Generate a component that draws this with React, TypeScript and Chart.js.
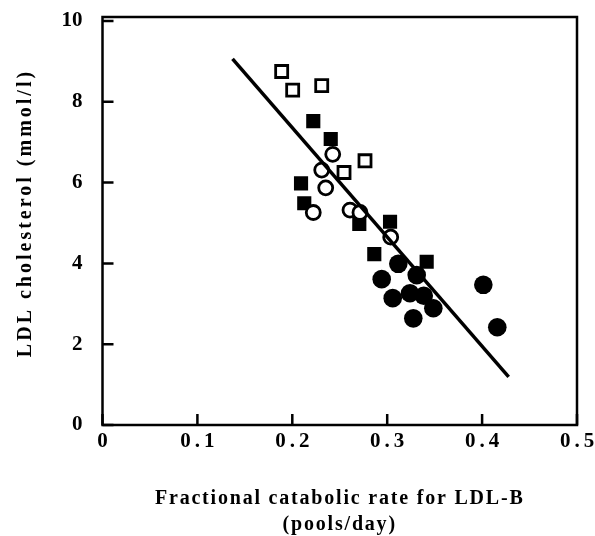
import React, { useEffect, useRef } from "react";
import { Chart, registerables } from "chart.js";

Chart.register(...registerables);

const openSquaresX = [0.1888, 0.2004, 0.231, 0.2766, 0.2545];
const openSquaresY = [8.75, 8.29, 8.4, 6.54, 6.25];

const filledSquaresX = [0.2221, 0.2405, 0.2092, 0.2126, 0.2706, 0.303, 0.2864, 0.3416];
const filledSquaresY = [7.52, 7.08, 5.98, 5.49, 4.98, 5.03, 4.23, 4.04];

const openCirclesX = [0.2426, 0.231, 0.2352, 0.2221, 0.2608, 0.2713, 0.3037];
const openCirclesY = [6.7, 6.31, 5.87, 5.26, 5.32, 5.26, 4.65];

const filledCirclesX = [0.3117, 0.3311, 0.2942, 0.3058, 0.324, 0.3385, 0.3486, 0.3275, 0.4013, 0.416];
const filledCirclesY = [3.99, 3.71, 3.61, 3.14, 3.26, 3.2, 2.89, 2.64, 3.47, 2.42];

const lineX = [0.137, 0.428];
const lineY = [9.06, 1.19];

const xTicks = [0, 0.1, 0.2, 0.3, 0.4, 0.5];
const xTickLabels = ["0", "0.1", "0.2", "0.3", "0.4", "0.5"];
const yTicks = [0, 2, 4, 6, 8, 10];
const yTickLabels = ["0", "2", "4", "6", "8", "10"];

const xTitle1 = "Fractional catabolic rate for LDL-B";
const xTitle2 = "(pools/day)";
const yTitle = "LDL cholesterol (mmol/l)";

const toPts = (xs: number[], ys: number[]) => xs.map((x, i) => ({ x, y: ys[i] }));

const FONT = '"Liberation Serif", "Times New Roman", serif';

const framePlugin = {
  id: "frameAndText",
  beforeDatasetsDraw(chart: any) {
    const { ctx, chartArea } = chart;
    const xs = chart.scales.x;
    const ys = chart.scales.y;
    ctx.save();
    ctx.strokeStyle = "#000";
    ctx.lineWidth = 2.5;
    ctx.beginPath();
    ctx.rect(chartArea.left, chartArea.top - 4, chartArea.right - chartArea.left, chartArea.bottom - chartArea.top + 4);
    ctx.stroke();
    ctx.beginPath();
    xTicks.forEach((v) => {
      const px = xs.getPixelForValue(v);
      ctx.moveTo(px, chartArea.bottom);
      ctx.lineTo(px, chartArea.bottom - 11);
    });
    yTicks.forEach((v) => {
      const py = ys.getPixelForValue(v);
      ctx.moveTo(chartArea.left, py);
      ctx.lineTo(chartArea.left + 11, py);
    });
    ctx.stroke();
    ctx.restore();
  },
  afterDraw(chart: any) {
    const { ctx, chartArea } = chart;
    const xs = chart.scales.x;
    const ys = chart.scales.y;
    ctx.save();
    ctx.fillStyle = "#000";
    ctx.textBaseline = "middle";
    ctx.font = `bold 21px ${FONT}`;
    (ctx as any).letterSpacing = "4px";
    ctx.textAlign = "center";
    xTicks.forEach((v, i) => {
      ctx.fillText(xTickLabels[i], xs.getPixelForValue(v) + 2, chartArea.bottom + 17);
    });
    (ctx as any).letterSpacing = "0px";
    ctx.textAlign = "right";
    yTicks.forEach((v, i) => {
      ctx.fillText(yTickLabels[i], chartArea.left - 20, ys.getPixelForValue(v));
    });
    ctx.font = `bold 20px ${FONT}`;
    (ctx as any).letterSpacing = "1.8px";
    ctx.textAlign = "center";
    const cx = (chartArea.left + chartArea.right) / 2;
    ctx.fillText(xTitle1, cx, chartArea.bottom + 74);
    ctx.fillText(xTitle2, cx, chartArea.bottom + 100);
    (ctx as any).letterSpacing = "3px";
    ctx.translate(26, (chartArea.top + chartArea.bottom) / 2 - 10);
    ctx.rotate(-Math.PI / 2);
    ctx.fillText(yTitle, 0, 0);
    ctx.restore();
  },
};

export default function App() {
  const ref = useRef<HTMLCanvasElement | null>(null);
  useEffect(() => {
    if (!ref.current) return;
    const chart = new Chart(ref.current, {
      type: "scatter",
      data: {
        datasets: [
          {
            type: "line",
            data: toPts(lineX, lineY),
            borderColor: "#000",
            borderWidth: 3.5,
            pointRadius: 0,
            fill: false,
            order: 0,
          } as any,
          {
            data: toPts(openCirclesX, openCirclesY),
            pointStyle: "circle",
            pointRadius: 7,
            pointBorderWidth: 2.8,
            pointBackgroundColor: "#fff",
            pointBorderColor: "#000",
            order: 1,
          },
          {
            data: toPts(openSquaresX, openSquaresY),
            pointStyle: "rect",
            pointRadius: 8.5,
            pointBorderWidth: 2.8,
            pointBackgroundColor: "#fff",
            pointBorderColor: "#000",
            order: 2,
          },
          {
            data: toPts(filledSquaresX, filledSquaresY),
            pointStyle: "rect",
            pointRadius: 10,
            pointBorderWidth: 0,
            pointBackgroundColor: "#000",
            pointBorderColor: "#000",
            order: 3,
          },
          {
            data: toPts(filledCirclesX, filledCirclesY),
            pointStyle: "circle",
            pointRadius: 9.3,
            pointBorderWidth: 0,
            pointBackgroundColor: "#000",
            pointBorderColor: "#000",
            order: 4,
          },
        ],
      },
      options: {
        animation: false,
        responsive: false,
        layout: { padding: { left: 102.5, top: 21, right: 18, bottom: 111 } },
        plugins: { legend: { display: false }, tooltip: { enabled: false } },
        scales: {
          x: { type: "linear", min: 0, max: 0.5, display: false },
          y: { type: "linear", min: 0, max: 10, display: false },
        },
      },
      plugins: [framePlugin],
    });
    return () => chart.destroy();
  }, []);
  return (
    <div style={{ position: "fixed", left: 0, top: 0, width: 595, height: 536 }}>
      <canvas ref={ref} width={595} height={536} style={{ display: "block" }} />
    </div>
  );
}
